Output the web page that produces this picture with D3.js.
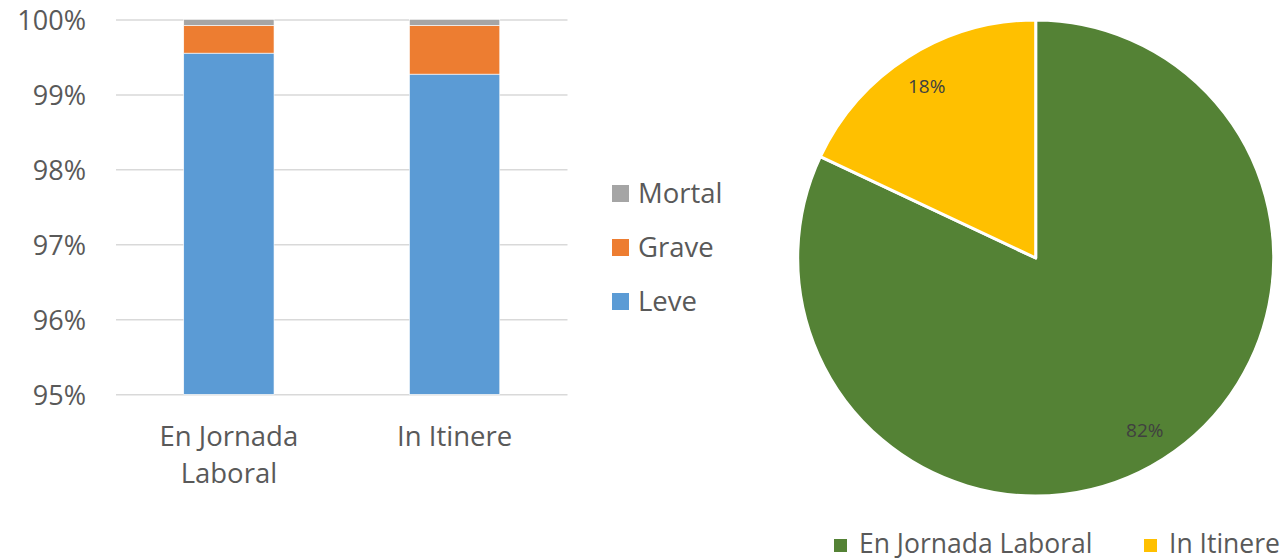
<!DOCTYPE html>
<html>
<head>
<meta charset="utf-8">
<script src="https://cdn.jsdelivr.net/npm/d3@7"></script>
<style>
  body { margin: 0; background: #fff; }
  svg { display: block; font-family: "Open Sans", sans-serif; }
</style>
</head>
<body>
<script>
'use strict';

// bar chart data (percent of accidents by severity)
const categories = ["En Jornada Laboral", "In Itinere"];
const severities = ["Leve", "Grave", "Mortal"];
const leve = [99.55, 99.27];
const grave = [0.37, 0.65];
const mortal = [0.08, 0.08];
const yTicks = [95, 96, 97, 98, 99, 100];

// pie chart data
const pieLabels = ["En Jornada Laboral", "In Itinere"];
const pieValues = [82, 18];

const barColors = { "Leve": "#5B9BD5", "Grave": "#ED7D31", "Mortal": "#A5A5A5" };
const pieColors = ["#548235", "#FFC000"];
const textColor = "#595959";

const svg = d3.select("body").append("svg")
  .attr("width", 1288)
  .attr("height", 560);

// ---- stacked bars ----
const rows = categories.map((c, i) => ({ cat: c, Leve: leve[i], Grave: grave[i], Mortal: mortal[i] }));
const stacked = d3.stack().keys(severities)(rows);

const x = d3.scaleBand()
  .domain(categories)
  .range([116, 567.5])
  .paddingInner(0.6)
  .paddingOuter(0.3);

const y = d3.scaleLinear()
  .domain([95, 100])
  .range([394.3, 19.4])
  .clamp(true);

// gridlines + tick labels
const yAxis = svg.append("g")
  .attr("transform", "translate(116,0)")
  .call(d3.axisLeft(y).tickValues(yTicks).tickSize(-451.5).tickPadding(30).tickFormat(d => d + "%"));
yAxis.attr("font-family", null).attr("font-size", null);
yAxis.select(".domain").remove();
yAxis.selectAll(".tick line").attr("stroke", "#D9D9D9").attr("stroke-width", 1.5);
yAxis.selectAll(".tick text")
  .attr("fill", textColor)
  .style("font-size", "27px")
  .attr("dy", "0.36em");

svg.append("g").selectAll("g")
  .data(stacked)
  .join("g")
    .attr("fill", d => barColors[d.key])
  .selectAll("rect")
  .data(d => d)
  .join("rect")
    .attr("x", d => x(d.data.cat))
    .attr("width", x.bandwidth())
    .attr("y", d => y(d[1]))
    .attr("height", d => y(d[0]) - y(d[1]))
    .attr("stroke", "#fff")
    .attr("stroke-width", 0.6);

// category labels, wrapped to the band step
const catLabels = svg.append("g").selectAll("text")
  .data(categories)
  .join("text")
    .attr("x", d => x(d) + x.bandwidth() / 2)
    .attr("y", 446)
    .attr("text-anchor", "middle")
    .attr("fill", textColor)
    .style("font-size", "27.5px");

catLabels.each(function(d) {
  const t = d3.select(this);
  const words = d.split(" ");
  let line = [];
  let tspan = t.append("tspan").attr("x", t.attr("x")).attr("dy", 0);
  words.forEach(w => {
    line.push(w);
    tspan.text(line.join(" "));
    if (tspan.node().getComputedTextLength() > x.step() && line.length > 1) {
      line.pop();
      tspan.text(line.join(" "));
      line = [w];
      tspan = t.append("tspan").attr("x", t.attr("x")).attr("dy", 37).text(w);
    }
  });
});

// bar legend (top to bottom: Mortal, Grave, Leve)
const barLegend = svg.append("g").selectAll("g")
  .data(severities.slice().reverse())
  .join("g")
    .attr("transform", (d, i) => `translate(612, ${185 + i * 54})`);
barLegend.append("rect")
  .attr("width", 17)
  .attr("height", 17)
  .attr("fill", d => barColors[d]);
barLegend.append("text")
  .attr("x", 26)
  .attr("y", 18)
  .attr("fill", textColor)
  .style("font-size", "27.5px")
  .text(d => d);

// ---- pie ----
const radius = 238;
const pie = d3.pie().sort(null).value(d => d)(pieValues);
const arc = d3.arc().innerRadius(0).outerRadius(radius);
const labelArc = d3.arc().innerRadius(radius * 0.855).outerRadius(radius * 0.855);

const pieG = svg.append("g").attr("transform", "translate(1035.7, 258)");
pieG.selectAll("path")
  .data(pie)
  .join("path")
    .attr("d", arc)
    .attr("fill", (d, i) => pieColors[i])
    .attr("stroke", "#fff")
    .attr("stroke-width", 3)
    .attr("stroke-linejoin", "round");

pieG.selectAll("text")
  .data(pie)
  .join("text")
    .attr("transform", d => `translate(${labelArc.centroid(d)})`)
    .attr("text-anchor", "middle")
    .attr("dy", "0.36em")
    .attr("fill", "#404040")
    .style("font-size", "19px")
    .text(d => d.value + "%");

// pie legend
const pieLegendX = [834, 1144];
const pieLegend = svg.append("g").selectAll("g")
  .data(pieLabels)
  .join("g")
    .attr("transform", (d, i) => `translate(${pieLegendX[i]}, 539)`);
pieLegend.append("rect")
  .attr("width", 13)
  .attr("height", 13)
  .attr("fill", (d, i) => pieColors[i]);
pieLegend.append("text")
  .attr("x", 25)
  .attr("y", 13.5)
  .attr("fill", textColor)
  .style("font-size", "26.5px")
  .text(d => d);
</script>
</body>
</html>
